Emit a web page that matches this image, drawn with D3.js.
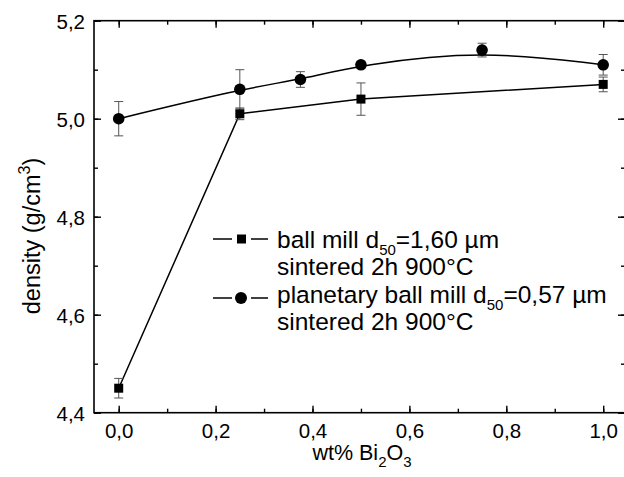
<!DOCTYPE html>
<html>
<head>
<meta charset="utf-8">
<script src="https://cdn.jsdelivr.net/npm/d3@7"></script>
<style>
  body { margin: 0; background: #fff; }
  text { font-family: "Liberation Sans", Arial, sans-serif; fill: #000; }
</style>
</head>
<body>
<svg width="624" height="477"></svg>
<script>
// ball mill d50=1,60 µm (squares)
var ballX = [0, 0.25, 0.5, 1.0];
var ballY = [4.45, 5.01, 5.04, 5.07];
var ballErr = [0.02, 0.012, 0.033, 0.015];

// planetary ball mill d50=0,57 µm (circles)
var planX = [0, 0.25, 0.375, 0.5, 0.75, 1.0];
var planY = [5.00, 5.06, 5.08, 5.11, 5.14, 5.11];
var planErr = [0.035, 0.04, 0.016, 0.007, 0.014, 0.021];

var xTicks = [0, 0.2, 0.4, 0.6, 0.8, 1.0];
var yTicks = [4.4, 4.6, 4.8, 5.0, 5.2];

var svg = d3.select("svg"),
    pLeft = 94, pRight = 625, pTop = 20.7, pBottom = 412.7;

var x = d3.scaleLinear().domain([-0.051, 1.045]).range([pLeft, pRight]);
var y = d3.scaleLinear().domain([4.4, 5.2]).range([pBottom, pTop]);

var fmt = function(d) { return d3.format(".1f")(d).replace(".", ","); };
var minorX = d3.range(0, 1.05, 0.1);
var minorY = d3.range(4.4, 5.25, 0.1);

var g = svg.append("g");

// minor ticks
function minor(axis, pos, ticks) {
  var a = g.append("g").attr("transform", pos)
    .call(axis.tickValues(ticks).tickSize(-4).tickFormat(""));
  a.select(".domain").remove();
  a.selectAll("line").attr("stroke-width", 1.4);
}
minor(d3.axisBottom(x), "translate(0," + pBottom + ")", minorX);
minor(d3.axisTop(x), "translate(0," + pTop + ")", minorX);
minor(d3.axisLeft(y), "translate(" + pLeft + ",0)", minorY);
minor(d3.axisRight(y), "translate(" + pRight + ",0)", minorY);

// major ticks
var xb = g.append("g").attr("transform", "translate(0," + pBottom + ")")
  .call(d3.axisBottom(x).tickValues(xTicks).tickSize(-7).tickPadding(12).tickFormat(fmt));
var xt = g.append("g").attr("transform", "translate(0," + pTop + ")")
  .call(d3.axisTop(x).tickValues(xTicks).tickSize(-7).tickFormat(""));
var yl = g.append("g").attr("transform", "translate(" + pLeft + ",0)")
  .call(d3.axisLeft(y).tickValues(yTicks).tickSize(-7).tickPadding(9).tickFormat(fmt));
var yr = g.append("g").attr("transform", "translate(" + pRight + ",0)")
  .call(d3.axisRight(y).tickValues(yTicks).tickSize(-7).tickFormat(""));

[xb, xt, yl, yr].forEach(function(a) {
  a.select(".domain").remove();
  a.selectAll("line").attr("stroke-width", 1.4);
  a.selectAll("text").attr("font-size", 20.5).attr("font-family", "Liberation Sans, Arial, sans-serif").attr("fill", "#000");
});
xb.selectAll("text").attr("y", 25.5).attr("dy", null);
yl.selectAll("text").attr("x", -9).attr("dy", "0.36em");

// frame
g.append("rect")
  .attr("x", pLeft).attr("y", pTop)
  .attr("width", pRight - pLeft).attr("height", pBottom - pTop)
  .attr("fill", "none").attr("stroke", "#000").attr("stroke-width", 1.6);

// axis titles
var xt1 = svg.append("text")
  .attr("transform", "translate(362,460)")
  .attr("text-anchor", "middle").attr("font-size", 21.5);
xt1.append("tspan").text("wt% Bi");
xt1.append("tspan").attr("font-size", 15).attr("dy", 7).text("2");
xt1.append("tspan").attr("dy", -7).text("O");
xt1.append("tspan").attr("font-size", 15).attr("dy", 7).text("3");

var yt1 = svg.append("text")
  .attr("transform", "translate(40,236) rotate(-90)")
  .attr("text-anchor", "middle").attr("font-size", 23.5);
yt1.append("tspan").text("density (g/cm");
yt1.append("tspan").attr("font-size", 16).attr("dy", -10).text("3");
yt1.append("tspan").attr("dy", 10).text(")");

// series lines
var lineBall = d3.line().x(function(d) { return x(d[0]); }).y(function(d) { return y(d[1]); });
var linePlan = d3.line().curve(d3.curveBasis).x(function(d) { return x(d[0]); }).y(function(d) { return y(d[1]); });

var ball = ballX.map(function(v, i) { return [v, ballY[i], ballErr[i]]; });
var plan = planX.map(function(v, i) { return [v, planY[i], planErr[i]]; });

g.append("path").datum(ball).attr("d", lineBall)
  .attr("fill", "none").attr("stroke", "#000").attr("stroke-width", 1.5);
g.append("path").datum(plan).attr("d", linePlan)
  .attr("fill", "none").attr("stroke", "#000").attr("stroke-width", 1.5);

// error bars
function errorBars(data) {
  var e = g.append("g").attr("stroke", "#555").attr("stroke-width", 1);
  data.forEach(function(d) {
    var cx = x(d[0]), y0 = y(d[1] - d[2]), y1 = y(d[1] + d[2]);
    e.append("line").attr("x1", cx).attr("x2", cx).attr("y1", y0).attr("y2", y1);
    e.append("line").attr("x1", cx - 4.5).attr("x2", cx + 4.5).attr("y1", y0).attr("y2", y0);
    e.append("line").attr("x1", cx - 4.5).attr("x2", cx + 4.5).attr("y1", y1).attr("y2", y1);
  });
}
errorBars(ball);
errorBars(plan);

// markers
g.selectAll(".sq").data(ball).enter().append("rect")
  .attr("x", function(d) { return x(d[0]) - 4.5; })
  .attr("y", function(d) { return y(d[1]) - 4.5; })
  .attr("width", 9).attr("height", 9).attr("fill", "#000");
g.selectAll(".ci").data(plan).enter().append("circle")
  .attr("cx", function(d) { return x(d[0]); })
  .attr("cy", function(d) { return y(d[1]); })
  .attr("r", 5.8).attr("fill", "#000");

// legend
var lg = svg.append("g");
function legendRow(yc, kind) {
  lg.append("line").attr("x1", 213).attr("x2", 232).attr("y1", yc).attr("y2", yc)
    .attr("stroke", "#000").attr("stroke-width", 1.5);
  lg.append("line").attr("x1", 251).attr("x2", 268).attr("y1", yc).attr("y2", yc)
    .attr("stroke", "#000").attr("stroke-width", 1.5);
  if (kind == "sq") {
    lg.append("rect").attr("x", 237).attr("y", yc - 4.5).attr("width", 9).attr("height", 9).attr("fill", "#000");
  } else {
    lg.append("circle").attr("cx", 241).attr("cy", yc).attr("r", 6).attr("fill", "#000");
  }
}
function legendText(yb, parts) {
  var t = lg.append("text")
    .attr("transform", "translate(277," + yb + ")")
    .attr("font-size", 24.5);
  t.append("tspan").text(parts[0]);
  if (parts.length > 1) {
    t.append("tspan").attr("font-size", 15).attr("dy", 7.5).text(parts[1]);
    t.append("tspan").attr("dy", -7.5).text(parts[2]);
  }
}
legendRow(239, "sq");
legendText(247.7, ["ball mill d", "50", "=1,60 µm"]);
legendText(275.2, ["sintered 2h 900°C"]);
legendRow(298, "ci");
legendText(302.7, ["planetary ball mill d", "50", "=0,57 µm"]);
legendText(330.2, ["sintered 2h 900°C"]);
</script>
</body>
</html>
